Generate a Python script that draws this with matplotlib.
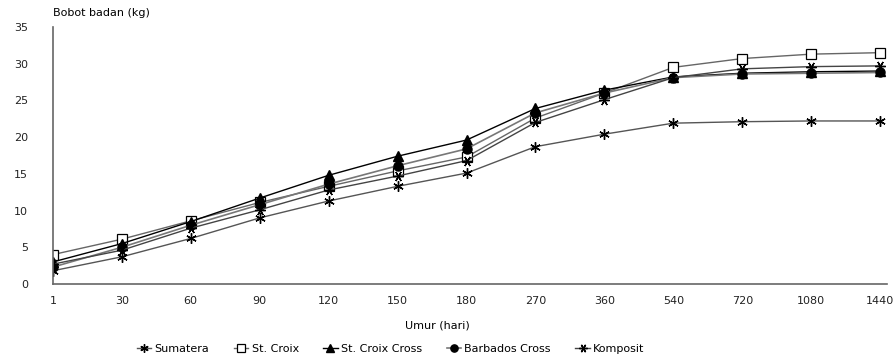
import matplotlib.pyplot as plt
import numpy as np

# umur (hari) as categories
ages = ["1", "30", "60", "90", "120", "150", "180", "270", "360", "540", "720", "1080", "1440"]

sumatera = [1.8, 3.7, 6.2, 9.0, 11.3, 13.3, 15.1, 18.7, 20.4, 21.9, 22.1, 22.2, 22.2]
st_croix = [4.0, 6.1, 8.6, 11.1, 13.3, 15.4, 17.3, 22.6, 26.0, 29.5, 30.7, 31.3, 31.5]
st_croix_cross = [3.0, 5.5, 8.5, 11.7, 14.8, 17.4, 19.6, 23.9, 26.4, 28.2, 28.7, 28.9, 29.0]
barbados_cross = [2.3, 5.0, 8.0, 10.8, 13.6, 16.1, 18.4, 23.3, 26.0, 28.1, 28.6, 28.7, 28.8]
komposit = [2.7, 4.6, 7.6, 10.1, 12.8, 14.7, 16.8, 22.0, 25.1, 28.1, 29.3, 29.6, 29.7]

plt.rcParams["font.family"] = ["DejaVu Sans"]

fig = plt.figure(figsize=(8.96, 3.62), dpi=100)
ax = fig.add_axes([0.059, 0.2155, 0.931, 0.71])

x = np.arange(len(ages))
ax.plot(x, sumatera, color="#555555", lw=1, marker=(6, 2, 0), ms=7.5, mec="black", mew=1, label="Sumatera")
ax.plot(x, st_croix, color="#666666", lw=1, marker="s", ms=7.5, mfc="white", mec="black", mew=0.9, label="St. Croix")
ax.plot(x, st_croix_cross, color="black", lw=1, marker="^", ms=6.5, mfc="black", mec="black", label="St. Croix Cross")
ax.plot(x, barbados_cross, color="#777777", lw=1.2, marker="o", ms=6.5, mfc="black", mec="black", label="Barbados Cross")
ax.plot(x, komposit, color="#444444", lw=1, marker=(6, 2, 30), ms=7.5, mec="black", mew=1, label="Komposit")

ax.set_xlim(0, 12.1)
ax.set_ylim(0, 35)
ax.set_xticks(x)
ax.set_xticklabels(ages)
ax.set_yticks(np.arange(0, 36, 5))
ax.tick_params(length=0, labelsize=8, colors="#222222")
ax.tick_params(axis="x", pad=9)
ax.tick_params(axis="y", pad=18)
for side in ["top", "right"]:
    ax.spines[side].set_visible(False)
for side in ["left", "bottom"]:
    ax.spines[side].set_color("#666666")
    ax.spines[side].set_linewidth(1.2)

fig.text(0.059, 0.965, "Bobot badan (kg)", fontsize=8, va="center", ha="left")
fig.text(0.488, 0.102, "Umur (hari)", fontsize=8, va="center", ha="center")

fig.legend(loc="center", bbox_to_anchor=(0.436, 0.036), ncol=5, frameon=False, fontsize=8,
           handlelength=1.3, handletextpad=0.3, columnspacing=2.2, markerscale=0.8)

fig.savefig("out.png", dpi=100)
